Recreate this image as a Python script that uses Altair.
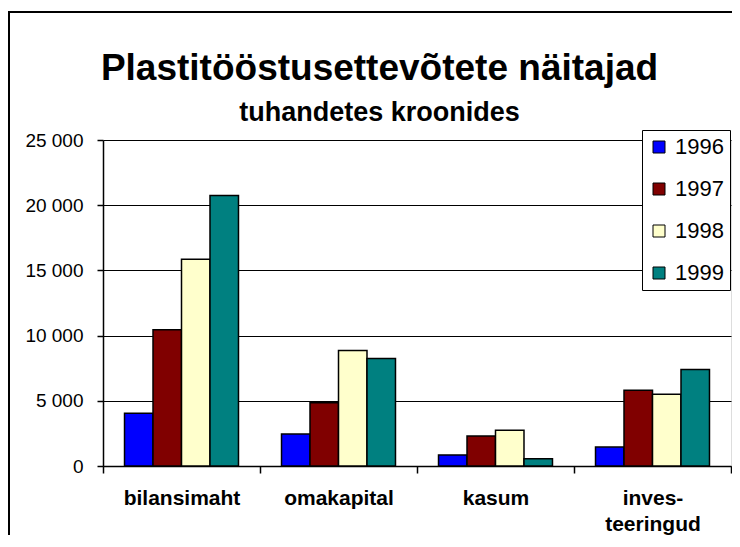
import altair as alt
import pandas as pd

# ---- data ----
categories = ["bilansimaht", "omakapital", "kasum", "inves-\nteeringud"]
years = ["1996", "1997", "1998", "1999"]
v1996 = [4050, 2450, 850, 1450]
v1997 = [10450, 4850, 2300, 5800]
v1998 = [15850, 8850, 2750, 5500]
v1999 = [20750, 8250, 550, 7400]
colors = ["#0000FF", "#800000", "#FFFFCC", "#008080"]
y_ticks = [0, 5000, 10000, 15000, 20000, 25000]

rows = []
for yr, vals in zip(years, [v1996, v1997, v1998, v1999]):
    for c, v in zip(categories, vals):
        rows.append({"kategooria": c, "aasta": yr, "vaartus": v})
df = pd.DataFrame(rows)

FONT = "Liberation Sans"
W, H = 628, 326

bars = alt.Chart(df).mark_bar(stroke="black", strokeWidth=1.5).encode(
    x=alt.X(
        "kategooria:N", sort=categories, title=None,
        scale=alt.Scale(paddingInner=0, paddingOuter=0),
        axis=alt.Axis(
            labelAngle=0, labelFont=FONT, labelFontSize=21, labelFontWeight="bold",
            labelColor="black", labelPadding=14, tickSize=7, tickColor="black",
            tickWidth=1.5, domainColor="black", domainWidth=1.5, tickBand="extent",
            labelExpr="split(datum.label, '\\n')", labelLineHeight=26, grid=False,
        ),
    ),
    xOffset=alt.XOffset(
        "aasta:N", sort=years,
        scale=alt.Scale(paddingInner=0, paddingOuter=0.755),
    ),
    y=alt.Y(
        "vaartus:Q", title=None,
        scale=alt.Scale(domain=[0, 25000], nice=False),
        axis=alt.Axis(
            values=y_ticks,
            labelExpr="replace(format(datum.value, ','), ',', ' ')",
            labelFont=FONT, labelFontSize=19, labelColor="black", labelPadding=14,
            labelFlush=False, tickSize=6, tickColor="black", tickWidth=1.5,
            domainColor="black", domainWidth=1.5, grid=True,
            gridColor="black", gridWidth=1,
        ),
    ),
    color=alt.Color(
        "aasta:N", sort=years,
        scale=alt.Scale(domain=years, range=colors),
        legend=alt.Legend(
            title=None, orient="none", legendX=539, legendY=-10,
            fillColor="white", strokeColor="black", padding=6,
            symbolType="square", symbolSize=144, symbolStrokeColor="black",
            symbolStrokeWidth=1, symbolOpacity=1,
            labelFont=FONT, labelFontSize=22, labelColor="black",
            labelOffset=5, rowPadding=20,
        ),
    ),
)

frame = alt.Chart(alt.Data(values=[{"a": 1}])).mark_rect(
    fillOpacity=0, stroke="black", strokeWidth=2
).encode(
    x=alt.value(-94), x2=alt.value(W + 60),
    y=alt.value(-128), y2=alt.value(H + 120),
)

chart = alt.layer(frame, bars).properties(
    width=W, height=H,
    autosize=alt.AutoSizeParams(type="none"),
    padding={"left": 95, "top": 132, "right": 1, "bottom": 69},
    title=alt.TitleParams(
        text="Plastitööstusettevõtete näitajad",
        subtitle="tuhandetes kroonides",
        font=FONT, fontSize=37, fontWeight="bold", color="black",
        subtitleFont=FONT, subtitleFontSize=27, subtitleFontWeight="bold",
        subtitleColor="black", subtitlePadding=11.7,
        anchor="middle", frame="group", dx=-37.5, offset=-115.7,
    ),
).configure_view(strokeWidth=0).configure(background="white")

chart.save("out.html", embed_options={"renderer": "svg", "actions": False})
